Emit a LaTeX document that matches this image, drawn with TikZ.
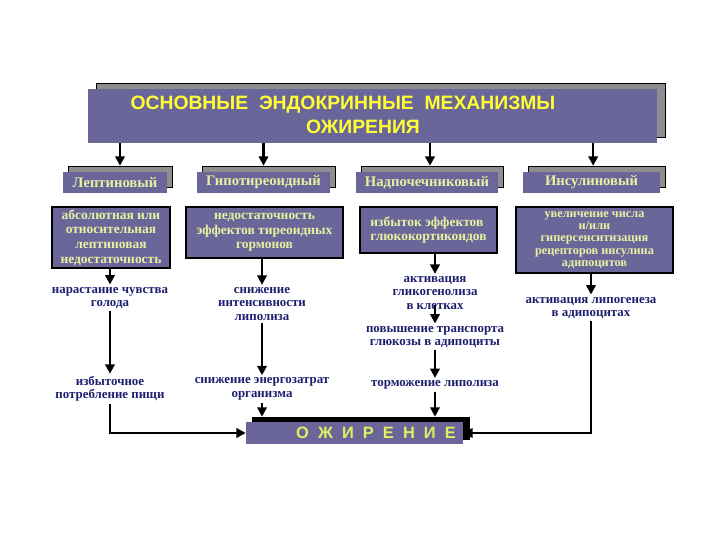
\documentclass[tikz,border=0pt]{standalone}
\usepackage{fontspec}
\setmainfont{Liberation Serif}
\newfontfamily\headfont{Liberation Sans}
\usepackage{tikz}
\usetikzlibrary{arrows.meta,shadows}

\definecolor{boxpurple}{HTML}{6B6699}
\definecolor{shadowgray}{HTML}{8E8E8E}
\definecolor{titleyellow}{HTML}{FFFF33}
\definecolor{paleyellow}{HTML}{E6F2A2}
\definecolor{navytext}{HTML}{1E1E70}
\definecolor{barletter}{HTML}{E2F060}

\begin{document}
\begin{tikzpicture}[x=0.03cm,y=-0.03cm]
\tikzstyle{every node}+=[inner sep=0pt]
\tikzstyle{hdr}=[fill=boxpurple, minimum height=0.63cm, text=paleyellow,
  font=\fontsize{12.5}{12.5}\selectfont\bfseries,
  copy shadow={shadow xshift=0.15cm, shadow yshift=0.18cm, fill=shadowgray}]
\tikzstyle{cause}=[fill=boxpurple, draw=black, line width=2pt, text=paleyellow,
  font=\fontsize{11.5}{12.5}\selectfont\bfseries, align=center]
\tikzstyle{effect}=[text=navytext, font=\fontsize{11}{11.5}\selectfont\bfseries,
  align=center, inner sep=2pt]
\tikzstyle{arr}=[line width=2pt, -{Triangle[width=8pt,length=8pt]}]
\useasboundingbox (0,0) rectangle (720,540);
% title
\node [fill=boxpurple, minimum width=17.07cm, minimum height=1.62cm,
  copy shadow={shadow xshift=0.24cm, shadow yshift=0.18cm, fill=shadowgray}]
  (title) at (372.5,116) {};
\node [text=titleyellow, font=\headfont\fontsize{16.5}{16.5}\selectfont\bfseries]
  (title1) at (343,105) {ОСНОВНЫЕ\ \ ЭНДОКРИННЫЕ\ \ МЕХАНИЗМЫ};
\node [text=titleyellow, font=\headfont\fontsize{16.5}{16.5}\selectfont\bfseries]
  (title2) at (363,127) {ОЖИРЕНИЯ};
% mechanisms
\node [hdr, minimum width=3.12cm] (h1) at (115,182.5) {Лептиновый};
\node [hdr, minimum width=3.99cm] (h2) at (263.5,182.5) {Гипотиреоидный};
\node [hdr, minimum width=4.26cm] (h3) at (427,182.5) {Надпочечниковый};
\node [hdr, minimum width=4.11cm] (h4) at (591.5,182.5) {Инсулиновый};
\draw [arr] ([xshift=0.15cm]title.south -| h1.north) -- ([xshift=0.15cm,yshift=0.18cm]h1.north);
\draw [arr] (title.south -| h2.north) -- ([yshift=0.18cm]h2.north);
\draw [arr] ([xshift=0.09cm]title.south -| h3.north) -- ([xshift=0.09cm,yshift=0.18cm]h3.north);
\draw [arr] ([xshift=0.05cm]title.south -| h4.north) -- ([xshift=0.05cm,yshift=0.18cm]h4.north);
% causes
\node [cause, minimum width=3.54cm, minimum height=1.83cm] (b1) at (111,237.5)
  {абсолютная или\\относительная\\лептиновая\\недостаточность};
\node [cause, minimum width=4.71cm, minimum height=1.53cm] (b2) at (264.5,232.5)
  {недостаточность\\эффектов тиреоидных\\гормонов};
\node [cause, minimum width=4.11cm, minimum height=1.38cm, align=left] (b3) at (428.5,230)
  {избыток эффектов\\глюкокортикоидов};
\node [cause, minimum width=4.71cm, minimum height=1.98cm,
  font=\fontsize{10.5}{10.5}\selectfont\bfseries] (b4) at (594.5,240)
  {увеличение числа\\и/или\\гиперсенситизация\\рецепторов инсулина\\адипоцитов};
% effects
\node [effect] (n1) at (110,298) {нарастание чувства\\голода};
\node [effect] (n2) at (110,389) {избыточное\\потребление пищи};
\node [effect] (n3) at (262,304) {снижение\\интенсивности\\липолиза};
\node [effect] (n4) at (262,389) {снижение энергозатрат\\организма};
\node [effect] (n5) at (435,293) {активация\\гликогенолиза\\в клетках};
\node [effect] (n6) at (435,337) {повышение транспорта\\глюкозы в адипоциты};
\node [effect] (n7) at (435,385) {торможение липолиза};
\node [effect] (n8) at (591,308) {активация липогенеза\\в адипоцитах};
% obesity
\node [fill=boxpurple, minimum width=6.51cm, minimum height=0.66cm,
  copy shadow={shadow xshift=0.18cm, shadow yshift=0.15cm, fill=black}]
  (obes) at (354.5,433) {};
\node [text=barletter, font=\headfont\fontsize{14}{14}\selectfont\bfseries]
  (obestext) at (376,433) {О\ \ Ж\ \ И\ \ Р\ \ Е\ \ Н\ \ И\ \ Е};
% connectors
\draw [arr] (b1.south -| n1.north) -- (n1.north);
\draw [arr] (n1.south) -- (n2.north);
\draw [arr] (n2.south) |- (obes.west);
\draw [arr] (b2.south -| n3.north) -- (n3.north);
\draw [arr] (n3.south) -- (n4.north);
\draw [arr] (n4.south) -- ([yshift=0.15cm]obes.north -| n4.south);
\draw [arr] (b3.south -| n5.north) -- (n5.north);
\draw [arr] ([yshift=6pt]n5.south) -- (n6.north);
\draw [arr] (n6.south) -- (n7.north);
\draw [arr] (n7.south) -- ([yshift=0.15cm]obes.north -| n7.south);
\draw [arr] (b4.south -| n8.north) -- (n8.north);
\draw [arr] (n8.south) |- (obes.east);
\end{tikzpicture}
\end{document}
